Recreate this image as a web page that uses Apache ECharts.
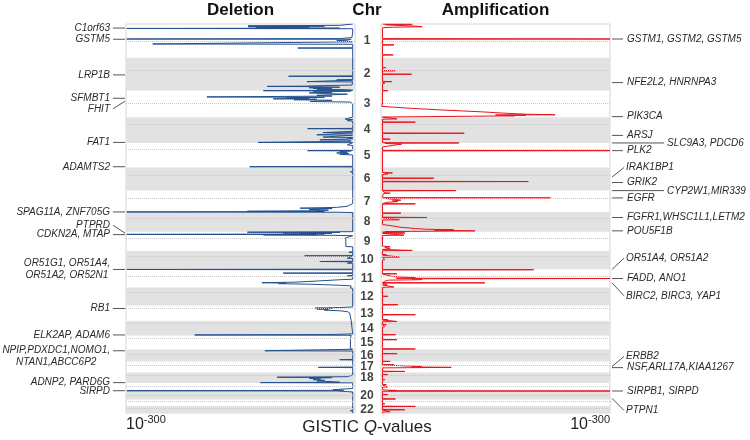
<!DOCTYPE html>
<html><head><meta charset="utf-8">
<script src="https://cdn.jsdelivr.net/npm/echarts@6/dist/echarts.min.js"></script>
<style>html,body{margin:0;padding:0;background:#fff}#c{width:750px;height:440px}</style>
</head><body><div id="c"></div>
<script>
// ---------------- DATA ----------------
const chrLabels = ['1','2','3','4','5','6','7','8','9','10','11','12','13','14','15','16','17','18','','20','','22'];
// chromosome lengths (Mb, hg19)
const chrLengths = [249.3,243.2,198.0,191.2,180.9,171.1,159.1,146.4,141.2,135.5,135.0,133.9,115.2,107.3,102.5,90.4,81.2,78.1,59.1,63.0,48.1,51.3];
// centromere position within each chromosome (Mb)
const centromeres = [125,93.3,91,50.4,48.4,61,59.9,45.6,49,40.2,53.7,35.8,17.9,17.6,19,36.6,24,17.2,26.5,27.5,13.2,14.7];
const qAxisMax = 300; // -log10(q) at panel edge (10^-300)

// deletion profile: [genome position (Mb), -log10 q]
const deletionProfile = [
[0,3],[6,4],[10,20],[14,140],[16,40],[20,140],[24,60],[28,130],[31,20],[33,299],[35,3],[60,3],[100,4],[108,20],[111,299],[113,5],[120,10],[124,24],[128,12],[132,3],[148,265],[150,3],[176,3],[178,75],[180,3],[249,3],
[384,3],[387,87],[389,3],[412,3],[414,24],[416,3],[425,3],[427,63],[429,3],[452,4],[456,40],[460,66],[462,115],[464,50],[468,20],[472,60],[474,45],[477,55],[480,30],[483,50],[487,10],[491,3],[494,120],[496,5],
[500,20],[503,55],[506,30],[510,60],[515,40],[520,10],[528,50],[534,30],[540,194],[543,40],[547,90],[550,60],[554,107],[557,50],[561,80],[565,30],[569,40],[574,59],[578,6],[590,3],[690,3],
[700,10],[705,13],[708,3],[716,10],[720,3],[773,3],[775,62],[777,3],[790,5],[795,3],[802,3],[804,42],[806,3],[819,3],[821,50],[823,3],[836,3],[838,42],[840,3],[845,10],[850,3],[856,3],[858,46],[860,10],[868,5],[875,3],[877,127],[879,3],
[890,3],[895,10],[900,3],[936,3],[938,62],[940,5],[945,20],[950,10],[955,24],[960,8],[965,20],[970,3],[1000,3],[1054,3],[1057,138],[1059,3],
[1093,3],[1095,6],[1097,3],[1152,3],[1154,5],[1156,3],
[1330,3],[1350,10],[1358,24],[1364,72],[1367,30],[1371,45],[1375,60],[1379,35],[1383,55],[1387,141],[1389,40],[1392,299],[1394,20],[1397,3],
[1538,3],[1542,141],[1544,20],[1546,60],[1548,94],[1550,30],[1553,72],[1555,40],[1558,299],[1560,50],[1562,120],[1565,30],[1568,3],[1582,3],[1584,12],[1648,12],[1650,3],
[1688,3],[1690,8],[1692,3],[1715,3],[1717,66],[1719,3],[1733,3],[1735,10],[1737,3],[1757,3],[1759,46],[1761,3],[1769,3],[1771,10],[1773,3],
[1816,3],[1818,299],[1820,3],[1843,3],[1845,94],[1847,3],[1863,3],[1865,10],[1867,3],[1890,3],[1894,20],[1903,48],[1912,80],[1916,122],[1919,90],[1923,100],[1927,60],[1931,40],[1935,20],[1940,5],[1950,3],
[1955,6],[1958,3],
[2095,3],[2100,20],[2104,52],[2107,30],[2111,50],[2115,35],[2119,40],[2124,20],[2130,10],[2140,7],[2198,5],
[2295,3],[2298,20],[2300,40],[2303,210],[2305,10],[2307,5],
[2330,6],[2405,6],[2409,3],
[2418,3],[2420,118],[2422,3],[2484,3],[2486,20],[2488,3],
[2541,3],[2543,48],[2545,3],
[2600,3],[2612,10],[2616,102],[2619,30],[2624,60],[2629,45],[2634,55],[2639,40],[2644,50],[2649,30],[2653,20],[2656,124],[2658,3],
[2700,3],[2705,20],[2709,29],[2713,15],[2716,299],[2718,24],[2722,10],[2726,3],[2743,3],[2745,5],[2747,3],
[2803,3],[2805,5],[2807,3],[2862,3],[2864,6],[2866,3],[2881,3]
];

// amplification profile: [genome position (Mb), -log10 q]
const amplificationProfile = [
[0,2],[2,41],[4,5],[8,10],[12,30],[16,45],[20,54],[24,15],[28,2],[108,2],[111,300],[113,2],[153,2],[155,17],[157,2],[227,2],[229,16],[231,2],
[284,2],[286,4],[288,2],[321,2],[323,6],[325,2],[344,2],[346,19],[348,2],[370,2],[372,40],[374,2],[425,2],[427,14],[429,2],[437,2],[439,5],[441,2],[492,2],[494,9],[496,2],
[585,2],[587,3],[589,2],[610,1],[616,2],[625,40],[636,77],[650,130],[660,160],[668,190],[672,228],[674,150],[676,190],[678,160],[680,175],[683,120],[686,60],[689,2],
[701,2],[703,21],[705,2],[725,2],[727,45],[729,2],[762,2],[764,4],[766,2],[807,2],[809,109],[811,2],[851,2],[853,12],[855,2],[879,2],[881,102],[883,5],[886,10],[890,27],[895,20],[900,15],[905,8],[910,2],[936,2],[938,300],[940,2],
[1100,2],[1103,15],[1105,5],[1110,9],[1115,2],[1140,2],[1142,69],[1144,2],[1165,2],[1167,193],[1169,2],
[1232,2],[1234,98],[1236,2],[1250,5],[1253,12],[1256,3],[1286,2],[1288,222],[1290,5],[1295,10],[1300,20],[1305,26],[1310,15],[1315,22],[1320,10],[1325,5],[1330,2],[1332,45],[1334,2],[1350,2],[1352,4],[1354,2],
[1399,2],[1401,26],[1403,2],[1431,2],[1433,60],[1435,2],[1448,2],[1450,24],[1452,2],[1485,2],[1495,15],[1505,25],[1515,45],[1520,60],[1524,95],[1527,70],[1530,100],[1532,123],[1534,80],[1536,40],[1538,5],[1540,31],[1542,2],[1547,2],[1549,31],[1551,2],[1562,2],[1564,30],[1566,2],
[1645,2],[1650,12],[1655,5],[1665,12],[1670,2],[1675,2],[1677,41],[1679,2],
[1707,2],[1709,7],[1711,2],[1724,2],[1726,24],[1728,2],[1740,2],[1745,5],[1748,2],[1818,2],[1820,200],[1822,2],
[1848,2],[1850,21],[1852,2],[1866,2],[1870,15],[1875,30],[1880,45],[1883,20],[1885,300],[1887,40],[1890,54],[1894,51],[1897,10],[1905,5],[1915,2],[1917,136],[1919,2],[1929,2],[1931,8],[1933,2],[1946,2],[1948,17],[1950,2],
[1978,2],[1980,4],[1982,2],[2015,2],[2017,9],[2019,2],[2077,2],[2079,22],[2081,2],
[2151,2],[2153,45],[2155,2],[2188,2],[2190,9],[2192,2],[2201,2],[2203,21],[2205,2],
[2225,2],[2227,7],[2229,2],[2240,2],[2242,5],[2244,2],[2299,2],[2301,19],[2303,2],[2336,2],[2338,21],[2340,2],
[2405,2],[2407,45],[2409,2],[2440,2],[2442,21],[2444,2],
[2497,2],[2499,12],[2501,2],[2521,2],[2523,17],[2525,2],[2535,2],[2537,53],[2540,40],[2543,92],[2545,45],[2547,2],[2571,2],[2573,31],[2575,2],
[2595,2],[2597,9],[2599,2],[2632,2],[2634,5],[2636,2],
[2669,2],[2671,7],[2673,2],[2686,2],[2688,9],[2690,2],[2710,2],[2714,21],[2716,10],[2718,300],[2720,2],
[2743,2],[2745,9],[2747,2],[2775,2],[2777,19],[2779,2],[2810,2],[2812,5],[2814,2],[2830,2],[2832,45],[2834,2],[2855,2],[2857,31],[2859,2],[2870,2],[2872,12],[2874,2],[2881,2]
];

// gene annotations: [label, peak position (Mb), label position (Mb), leader kind]
const deletionGenes = [
['C1orf63',30],['GSTM5',113],['LRP1B',377],['SFMBT1',550],['FHIT',572,628,'d'],['FAT1',877],
['ADAMTS2',1057],['SPAG11A, ZNF705G',1392],['PTPRD',1549,1490,'d'],['CDKN2A, MTAP',1560],
['OR51G1, OR51A4,\nOR51A2, OR52N1',1818],['RB1',2107],['ELK2AP, ADAM6',2303],
['NPIP,PDXDC1,NOMO1,\nNTAN1,ABCC6P2',2420,2460,'h'],['ADNP2, PARD6G',2656],['SIRPD',2716]
];
const amplificationGenes = [
['GSTM1, GSTM2, GSTM5',111],['NFE2L2, HNRNPA3',434],['PIK3CA',686],['ARSJ',825],['SLC9A3, PDCD6',881,881,'l'],
['PLK2',938],['IRAK1BP1',1134,1063,'d'],['GRIK2',1174],['CYP2W1,MIR339',1234,1238,'l'],['EGFR',1288],
['FGFR1,WHSC1L1,LETM2',1433],['POU5F1B',1532],['OR51A4, OR51A2',1818,1734,'d'],['FADD, ANO1',1885],
['BIRC2, BIRC3, YAP1',1917,2013,'d'],['ERBB2',2537,2462,'d'],['NSF,ARL17A,KIAA1267',2545],
['SIRPB1, SIRPD',2718],['PTPN1',2772,2862,'d']
];

// ---------------- CHART ----------------
const FONT = '"Liberation Sans", Arial, Helvetica, sans-serif';
const chrStarts = []; let acc = 0;
chrLengths.forEach(l => { chrStarts.push(acc); acc += l; });
const genomeLen = acc;
const bands = chrLengths.map((l, i) => i % 2 === 1 ? [{yAxis: chrStarts[i]}, {yAxis: chrStarts[i] + l}] : null).filter(Boolean);
const cenLines = centromeres.map((c, i) => ({yAxis: chrStarts[i] + c}));
const chrMid = chrLengths.map((l, i) => chrStarts[i] + l / 2);

const grids = [
  {left: 126, top: 24, width: 229, height: 389},
  {left: 381, top: 24, width: 229, height: 389},
  {left: 357, top: 24, width: 20, height: 389}
];
const yAx = i => ({gridIndex: i, type: 'value', inverse: true, min: 0, max: genomeLen, show: false});
const botRich = {
  b: {fontSize: 16, fontFamily: FONT, color: '#222', lineHeight: 22},
  s: {fontSize: 11, fontFamily: FONT, color: '#222', lineHeight: 12, verticalAlign: 'top'}
};
const xLabel = align => ({show: true, margin: 1, align: align, formatter: v => v === qAxisMax ? '{b|10}{s|-300}' : '', rich: botRich});
const bandSeries = () => ({
  markArea: {silent: true, itemStyle: {color: '#e2e2e2'}, data: bands},
  markLine: {silent: true, symbol: ['none', 'none'], label: {show: false}, lineStyle: {type: 'dotted', color: '#c8c8c8', width: 1}, data: cenLines}
});

const option = {
  animation: false,
  grid: grids.map((g, i) => Object.assign({show: i < 2, borderColor: '#d6d6d6', borderWidth: 1, backgroundColor: 'transparent'}, g)),
  xAxis: [
    {gridIndex: 0, type: 'value', inverse: true, min: 0, max: qAxisMax, interval: qAxisMax, axisLine: {show: false}, axisTick: {show: false}, splitLine: {show: false}, axisLabel: xLabel('left')},
    {gridIndex: 1, type: 'value', min: 0, max: qAxisMax, interval: qAxisMax, axisLine: {show: false}, axisTick: {show: false}, splitLine: {show: false}, axisLabel: xLabel('right')},
    {gridIndex: 2, type: 'value', min: 0, max: 1, show: false}
  ],
  yAxis: [yAx(0), yAx(1), yAx(2)],
  series: [
    Object.assign({type: 'line', name: 'Deletion', xAxisIndex: 0, yAxisIndex: 0, symbol: 'none', z: 3,
      lineStyle: {color: '#23508e', width: 1}, data: deletionProfile.map(([p, v]) => [v, p])}, bandSeries()),
    Object.assign({type: 'line', name: 'Amplification', xAxisIndex: 1, yAxisIndex: 1, symbol: 'none', z: 3,
      lineStyle: {color: '#e8141c', width: 1}, data: amplificationProfile.map(([p, v]) => [v, p])}, bandSeries()),
    {type: 'scatter', xAxisIndex: 2, yAxisIndex: 2, symbolSize: 1, itemStyle: {color: 'rgba(0,0,0,0)'},
      data: chrMid.map((m, i) => ({value: [0.5, m], name: chrLabels[i]})),
      label: {show: true, position: 'inside', formatter: '{b}', color: '#111', fontWeight: 'bold', fontSize: 12, fontFamily: FONT}}
  ]
};

const chart = echarts.init(document.getElementById('c'), null, {renderer: 'canvas'});
chart.setOption(option);

// annotations placed through the axes
const geneFont = 'italic 10px ' + FONT;
const ctx = document.createElement('canvas').getContext('2d');
ctx.font = geneFont;
const graphics = [];
const leader = (x1, y1, x2, y2) => graphics.push({type: 'line', silent: true, shape: {x1, y1, x2, y2}, style: {stroke: '#555', lineWidth: 1}});
const gtext = (text, x, y, align, extra) => graphics.push({type: 'text', silent: true, x, y,
  style: Object.assign({text, fill: '#2a2a2a', font: geneFont, align, verticalAlign: 'middle', lineHeight: 12}, extra || {})});

deletionGenes.forEach(([name, pos, lab, kind]) => {
  const a = chart.convertToPixel({gridIndex: 0}, [qAxisMax, pos]);
  const l = chart.convertToPixel({gridIndex: 0}, [qAxisMax, lab === undefined ? pos : lab]);
  const edge = a[0];
  if (kind === 'd') leader(edge - 13, l[1], edge - 1, a[1]);
  else leader(edge - 13, a[1], edge - 1, a[1]);
  const lines = name.split('\n');
  if (lines.length > 1) {
    const w = Math.max(...lines.map(s => ctx.measureText(s).width));
    gtext(name, edge - 16 - w / 2, l[1], 'center');
  } else {
    gtext(name, edge - 16, l[1], 'right');
  }
});
amplificationGenes.forEach(([name, pos, lab, kind]) => {
  const a = chart.convertToPixel({gridIndex: 1}, [qAxisMax, pos]);
  const l = chart.convertToPixel({gridIndex: 1}, [qAxisMax, lab === undefined ? pos : lab]);
  const edge = a[0];
  if (kind === 'd') { leader(edge + 2, a[1], edge + 14, l[1]); gtext(name, edge + 16, l[1], 'left'); }
  else if (kind === 'l') { leader(edge + 2, a[1], edge + 54, a[1]); gtext(name, edge + 57, l[1], 'left'); }
  else { leader(edge + 2, a[1], edge + 13, a[1]); gtext(name, edge + 17, l[1], 'left'); }
});

// titles
const titleFont = 'bold 17px ' + FONT;
const cL = chart.convertToPixel({gridIndex: 0}, [qAxisMax / 2, 0]);
const cR = chart.convertToPixel({gridIndex: 1}, [qAxisMax / 2, 0]);
const cM = chart.convertToPixel({gridIndex: 2}, [0.5, 0]);
graphics.push({type: 'text', x: cL[0], y: 10, style: {text: 'Deletion', font: titleFont, fill: '#111', align: 'center', verticalAlign: 'middle'}});
graphics.push({type: 'text', x: cM[0], y: 10, style: {text: 'Chr', font: titleFont, fill: '#111', align: 'center', verticalAlign: 'middle'}});
graphics.push({type: 'text', x: cR[0], y: 10, style: {text: 'Amplification', font: titleFont, fill: '#111', align: 'center', verticalAlign: 'middle'}});
graphics.push({type: 'text', x: cM[0], y: 427, style: {
  text: '{n|GISTIC }{q|Q}{n|-values}', align: 'center', verticalAlign: 'middle',
  rich: {n: {fontSize: 17, fontFamily: FONT, fill: '#222', color: '#222'}, q: {fontSize: 17, fontFamily: FONT, fontStyle: 'italic', fill: '#222', color: '#222'}}
}});
chart.setOption({graphic: graphics});
</script>
</body></html>
